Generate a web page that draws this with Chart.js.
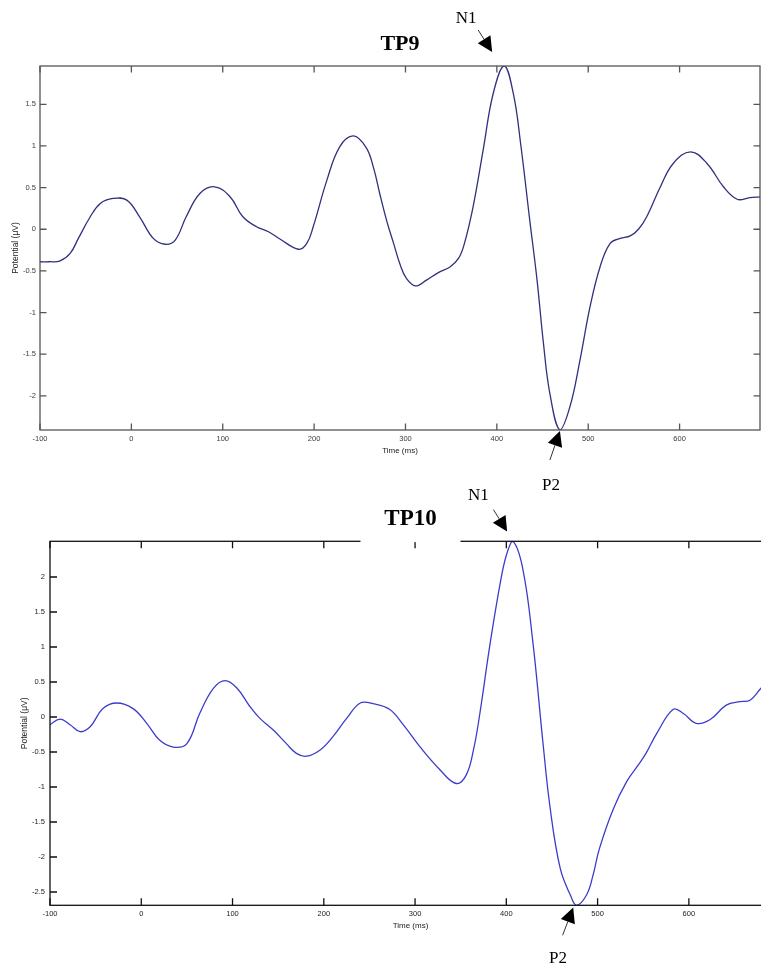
<!DOCTYPE html>
<html>
<head>
<meta charset="utf-8">
<script src="https://cdn.jsdelivr.net/npm/chart.js@4.4.1/dist/chart.umd.min.js"></script>
<style>
html,body{margin:0;padding:0;background:#fff;overflow:hidden;width:761px;height:965px;}
canvas{position:absolute;left:0;}
#tp9{top:0;}
#tp10{top:480px;}
</style>
</head>
<body>
<canvas id="tp9" width="761" height="500"></canvas>
<canvas id="tp10" width="790" height="485"></canvas>
<script>
// --- données (ms, µV) ---
const xTicks=[-100,0,100,200,300,400,500,600];
const yTicksTP9=[-2,-1.5,-1,-0.5,0,0.5,1,1.5];
const yTicksTP10=[-2.5,-2,-1.5,-1,-0.5,0,0.5,1,1.5,2];

const timeTP9=[-100,-90,-78,-67,-58,-45,-34,-20,-5,9,24,37,48,60,75,91,108,122,137,150,163,183,192,199,214,228,243,257,265,272,280,287,294,301,311,323,336,349,358,364,374,385,396,408,418,426,436,444,451,458,469,480,491,502,513,524,535,546,555,564,579,593,612,630,648,663,677,688];
const potTP9=[-0.39,-0.39,-0.38,-0.29,-0.11,0.15,0.31,0.37,0.35,0.15,-0.11,-0.18,-0.13,0.15,0.43,0.51,0.39,0.15,0.03,-0.03,-0.12,-0.24,-0.17,0.03,0.59,0.99,1.12,0.98,0.74,0.42,0.08,-0.17,-0.42,-0.59,-0.68,-0.61,-0.52,-0.45,-0.35,-0.19,0.27,0.95,1.63,1.96,1.63,1.03,0.11,-0.61,-1.37,-1.97,-2.41,-2.13,-1.57,-0.93,-0.45,-0.17,-0.11,-0.08,0.0,0.15,0.51,0.79,0.93,0.79,0.51,0.36,0.38,0.39];

const timeTP10=[-100,-89,-78,-67,-56,-42,-27,-9,6,20,35,50,64,79,92,105,119,130,145,159,170,181,196,210,225,240,254,272,287,305,327,345,356,364,371,382,393,400,407,418,429,440,448,459,470,477,488,495,502,517,532,546,553,565,583,594,608,623,641,656,667,679,690];
const potTP10=[-0.11,-0.03,-0.11,-0.21,-0.14,0.12,0.20,0.12,-0.09,-0.33,-0.43,-0.38,0.05,0.41,0.52,0.41,0.15,-0.02,-0.19,-0.38,-0.52,-0.56,-0.47,-0.28,-0.02,0.20,0.19,0.11,-0.11,-0.42,-0.75,-0.95,-0.83,-0.47,0.05,1.03,1.89,2.31,2.51,2.12,1.08,-0.35,-1.30,-2.16,-2.54,-2.69,-2.54,-2.26,-1.88,-1.32,-0.92,-0.66,-0.52,-0.23,0.11,0.05,-0.09,-0.04,0.17,0.22,0.24,0.41,0.55];

// Plugin : cadre style MATLAB (ticks vers l'intérieur), titre et flèches N1/P2
const frame={
  id:'frame',
  afterDraw(chart,args,o){
    const {ctx,chartArea:a,scales:{x,y}}=chart;
    ctx.save();
    ctx.strokeStyle=o.color; ctx.lineWidth=o.lineWidth;
    ctx.strokeRect(a.left,a.top,a.right-a.left,a.bottom-a.top);
    ctx.beginPath();
    x.ticks.forEach(t=>{
      const p=x.getPixelForValue(t.value);
      ctx.moveTo(p,a.bottom); ctx.lineTo(p,a.bottom-o.tickLen);
      ctx.moveTo(p,a.top); ctx.lineTo(p,a.top+o.tickLen);
    });
    y.ticks.forEach(t=>{
      const p=y.getPixelForValue(t.value);
      ctx.moveTo(a.left,p); ctx.lineTo(a.left+o.tickLen,p);
      ctx.moveTo(a.right,p); ctx.lineTo(a.right-o.tickLen,p);
    });
    ctx.stroke();

    // titre
    const cx=(a.left+a.right)/2;
    if(o.titleBg){
      ctx.fillStyle='#fff';
      ctx.fillRect(cx-o.titleBg[0]/2,o.titleBg[1],o.titleBg[0],a.top+0.8-o.titleBg[1]);
    }
    ctx.fillStyle='#000';
    ctx.font=o.titleFont;
    ctx.textAlign='center'; ctx.textBaseline='alphabetic';
    ctx.fillText(o.title,cx,o.titleY);

    // flèches
    const ds=chart.data.datasets[0].data;
    const vals=ds.map(d=>d.y);
    o.arrows.forEach(ar=>{
      const idx=ar.at==='max'? vals.indexOf(Math.max(...vals)) : vals.indexOf(Math.min(...vals));
      const px=x.getPixelForValue(ds[idx].x), py=y.getPixelForValue(ds[idx].y);
      const tx=px+ar.tip[0], ty=py+ar.tip[1], sx=px+ar.tail[0], sy=py+ar.tail[1];
      const dx=tx-sx, dy=ty-sy, L=Math.hypot(dx,dy), ux=dx/L, uy=dy/L;
      const bx=tx-ux*o.head, by=ty-uy*o.head;
      ctx.strokeStyle='#000'; ctx.lineWidth=0.8;
      ctx.beginPath(); ctx.moveTo(sx,sy); ctx.lineTo(bx,by); ctx.stroke();
      ctx.beginPath();
      ctx.moveTo(tx,ty);
      ctx.lineTo(bx-uy*o.headW,by+ux*o.headW);
      ctx.lineTo(bx+uy*o.headW,by-ux*o.headW);
      ctx.closePath(); ctx.fill();
      ctx.font=o.labelFont;
      ctx.fillText(ar.text,px+ar.label[0],py+ar.label[1]);
    });
    ctx.restore();
  }
};

function makeChart(id,c){
  return new Chart(document.getElementById(id),{
    type:'line',
    data:{datasets:[{
      data:c.t.map((t,i)=>({x:t,y:c.v[i]})),
      borderColor:c.lineColor, borderWidth:1.3, pointRadius:0,
      tension:0.4, fill:false
    }]},
    options:{
      responsive:false, animation:false, events:[],
      layout:{padding:{top:c.padTop,right:c.padRight,left:0,bottom:0}},
      plugins:{legend:{display:false},title:{display:false},tooltip:{enabled:false},frame:c.frame},
      scales:{
        x:{
          type:'linear', min:-100, max:c.xMax,
          afterBuildTicks:s=>{ s.ticks=xTicks.map(v=>({value:v})); },
          afterFit:s=>{ s.height=c.xAxisH; },
          grid:{display:false,drawTicks:false}, border:{display:false},
          ticks:{padding:c.xPad,autoSkip:false,maxRotation:0,color:c.tickColor,
                 font:{family:'Liberation Sans',size:7.5},callback:v=>String(v)},
          title:{display:true,text:'Time (ms)',color:'#222',
                 font:{family:'Liberation Sans',size:8},padding:{top:0,bottom:c.xTitlePad}}
        },
        y:{
          type:'linear', min:c.yMin, max:c.yMax,
          afterBuildTicks:s=>{ s.ticks=c.yTicks.map(v=>({value:v})); },
          afterFit:s=>{ s.width=c.yAxisW; },
          grid:{display:false,drawTicks:false}, border:{display:false},
          ticks:{padding:c.yPad,autoSkip:false,color:c.tickColor,
                 font:{family:'Liberation Sans',size:7.5},callback:v=>String(v)},
          title:{display:true,text:'Potential (μV)',color:'#222',
                 font:{family:'Liberation Sans',size:8.5},padding:{top:c.yTitlePad,bottom:0}}
        }
      }
    },
    plugins:[frame]
  });
}

makeChart('tp9',{
  t:timeTP9, v:potTP9, yTicks:yTicksTP9,
  xMax:688, yMin:-2.41, yMax:1.96,
  lineColor:'#30307e', tickColor:'#3a3a3a',
  padTop:66, padRight:1, xAxisH:70, yAxisW:40,
  xPad:4.5, yPad:4, xTitlePad:44.7, yTitlePad:10.6,
  frame:{
    color:'#555', lineWidth:1.3, tickLen:6.5,
    title:'TP9', titleFont:'bold 22px "Liberation Serif"', titleY:50,
    head:15, headW:7.5, labelFont:'17px "Liberation Serif"',
    arrows:[
      {text:'N1',at:'max',tip:[-12,-14],tail:[-26,-36],label:[-38,-43]},
      {text:'P2',at:'min',tip:[0,1],tail:[-10,30],label:[-9,60]}
    ]
  }
});

makeChart('tp10',{
  t:timeTP10, v:potTP10, yTicks:yTicksTP10,
  xMax:690, yMin:-2.69, yMax:2.51,
  lineColor:'#3c3ccc', tickColor:'#222',
  padTop:61.3, padRight:19, xAxisH:59.7, yAxisW:50,
  xPad:4, yPad:5, xTitlePad:34.7, yTitlePad:19.9,
  frame:{
    color:'#111', lineWidth:1.3, tickLen:7,
    title:'TP10', titleFont:'bold 23px "Liberation Serif"', titleY:45, titleBg:[100,20],
    head:15, headW:7.5, labelFont:'17px "Liberation Serif"',
    arrows:[
      {text:'N1',at:'max',tip:[-5.6,-9.7],tail:[-19.3,-31.7],label:[-34.3,-41.7]},
      {text:'P2',at:'min',tip:[-3.4,2.3],tail:[-14,30],label:[-18.7,58]}
    ]
  }
});
</script>
</body>
</html>
